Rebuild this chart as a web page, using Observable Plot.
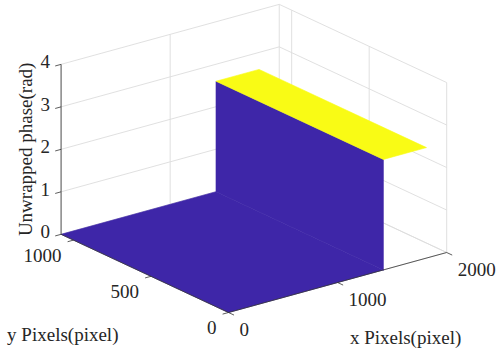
<!DOCTYPE html>
<html>
<head>
<meta charset="utf-8">
<script src="https://cdn.jsdelivr.net/npm/d3@7"></script>
<script src="https://cdn.jsdelivr.net/npm/@observablehq/plot@0.6"></script>
<style>
  html, body { margin: 0; padding: 0; background: #fff; }
</style>
</head>
<body>
<div id="chart"></div>
<script>
// ---- data ----
const xTicks = [0, 1000, 2000];
const yTicks = [0, 500, 1000];
const zTicks = [0, 1, 2, 3, 4];
const xLim = [0, 2000];
const yLim = [0, 1080];
const zLim = [0, 4];
// surface profile along x (constant along y)
const profileX = [0, 1420, 1420, 1815];
const profileZ = [0, 0, 2.6, 2.6];
const surfY = [0, 1080];
const xLabel = "x Pixels(pixel)";
const yLabel = "y Pixels(pixel)";
const zLabel = "Unwrapped phase(rad)";
const colormapEnds = ["#3E26A8", "#F9FB15"]; // parula min / max

// ---- 3D view (orthographic) ----
const az = 37.5 * Math.PI / 180, el = 21 * Math.PI / 180, boxH = 0.662;
function proj(x, y, z) {
  const xn = (x - xLim[0]) / (xLim[1] - xLim[0]);
  const yn = (y - yLim[0]) / (yLim[1] - yLim[0]);
  const zn = (z - zLim[0]) / (zLim[1] - zLim[0]);
  return {
    u: xn * Math.cos(az) - yn * Math.sin(az),
    v: (xn * Math.sin(az) + yn * Math.cos(az)) * Math.sin(el) + zn * boxH * Math.cos(el)
  };
}
const xMax = xLim[1], yMax = yLim[1], zMax = zLim[1];

function seg(a, b, extra = {}) {
  const p = proj(...a), q = proj(...b);
  return {u1: p.u, v1: p.v, u2: q.u, v2: q.v, ...extra};
}

// grid on floor and the two back walls
const grid = [];
xTicks.forEach(t => grid.push(seg([t, yLim[0], zLim[0]], [t, yMax, zLim[0]])));
yTicks.forEach(t => grid.push(seg([xLim[0], t, zLim[0]], [xMax, t, zLim[0]])));
xTicks.forEach(t => grid.push(seg([t, yMax, zLim[0]], [t, yMax, zMax])));
zTicks.forEach(t => grid.push(seg([xLim[0], yMax, t], [xMax, yMax, t])));
yTicks.forEach(t => grid.push(seg([xMax, t, zLim[0]], [xMax, t, zMax])));
zTicks.forEach(t => grid.push(seg([xMax, yLim[0], t], [xMax, yMax, t])));

// axis lines
const axes = [
  seg([xLim[0], yLim[0], zLim[0]], [xMax, yLim[0], zLim[0]]),
  seg([xLim[0], yLim[0], zLim[0]], [xLim[0], yMax, zLim[0]]),
  seg([xLim[0], yMax, zLim[0]], [xLim[0], yMax, zMax])
];
// tick marks (outward)
const tx = 0.027 * (xLim[1] - xLim[0]), ty = 0.033 * (yLim[1] - yLim[0]);
const ticks = [];
xTicks.forEach(t => ticks.push(seg([t, yLim[0], zLim[0]], [t, yLim[0] - ty, zLim[0]])));
yTicks.forEach(t => ticks.push(seg([xLim[0], t, zLim[0]], [xLim[0] - tx, t, zLim[0]])));
zTicks.forEach(t => ticks.push(seg([xLim[0], yMax, t], [xLim[0] - tx, yMax, t])));

// tick labels
const xTickLabels = xTicks.map(t => ({...proj(t, yLim[0], zLim[0]), text: String(t)}));
const yTickLabels = yTicks.map(t => ({...proj(xLim[0], t, zLim[0]), text: String(t)}));
const zTickLabels = zTicks.map(t => ({...proj(xLim[0], yMax, t), text: String(t)}));

// surface faces (flat colour from lowest vertex, parula colormap)
const zr = d3.extent(profileZ);
const cmap = d3.scaleLinear().domain(zr).range(colormapEnds);
const faces = [];
for (let i = 0; i < profileX.length - 1; i++) {
  const x0 = profileX[i], x1 = profileX[i + 1], z0 = profileZ[i], z1 = profileZ[i + 1];
  const pts = [
    proj(x0, surfY[0], z0), proj(x1, surfY[0], z1),
    proj(x1, surfY[1], z1), proj(x0, surfY[1], z0), proj(x0, surfY[0], z0)
  ];
  faces.push({pts, color: cmap(Math.min(z0, z1))});
}

const k = 275, ox = 228, oy = 312, W = 502, H = 348;
const font = "'Liberation Serif', 'Times New Roman', serif";
const txt = {fontFamily: font, fontSize: 19, fill: "#262626"};

const chart = Plot.plot({
  width: W, height: H,
  margin: 0,
  x: {axis: null, domain: [-ox / k, (W - ox) / k], range: [0, W]},
  y: {axis: null, domain: [-(H - oy) / k, oy / k], range: [H, 0]},
  style: {background: "#fff", fontFamily: font},
  marks: [
    Plot.link(grid, {x1: "u1", y1: "v1", x2: "u2", y2: "v2", stroke: "#dcdcdc", strokeWidth: 0.9}),
    ...faces.map(f => Plot.line(f.pts, {x: "u", y: "v", fill: f.color, stroke: f.color, strokeWidth: 0.6})),
    Plot.link(axes, {x1: "u1", y1: "v1", x2: "u2", y2: "v2", stroke: "#333", strokeWidth: 0.8}),
    Plot.link(ticks, {x1: "u1", y1: "v1", x2: "u2", y2: "v2", stroke: "#333", strokeWidth: 0.8}),
    Plot.text(xTickLabels, {x: "u", y: "v", text: "text", textAnchor: "start", dx: 11, dy: 17, ...txt}),
    Plot.text(yTickLabels, {x: "u", y: "v", text: "text", textAnchor: "end", dx: -12, dy: 15.5, ...txt}),
    Plot.text(zTickLabels, {x: "u", y: "v", text: "text", textAnchor: "end", dx: -11, dy: -2, ...txt}),
    Plot.text([proj(xMax / 2, yLim[0], zLim[0])], {x: "u", y: "v", text: [xLabel], dx: 68, dy: 55, ...txt}),
    Plot.text([proj(xLim[0], yMax / 2, zLim[0])], {x: "u", y: "v", text: [yLabel], dx: -82, dy: 61, ...txt}),
    Plot.text([proj(xLim[0], yMax, zMax / 2)], {x: "u", y: "v", text: [zLabel], rotate: -90, dx: -35, ...txt})
  ]
});
document.getElementById("chart").appendChild(chart);
</script>
</body>
</html>
